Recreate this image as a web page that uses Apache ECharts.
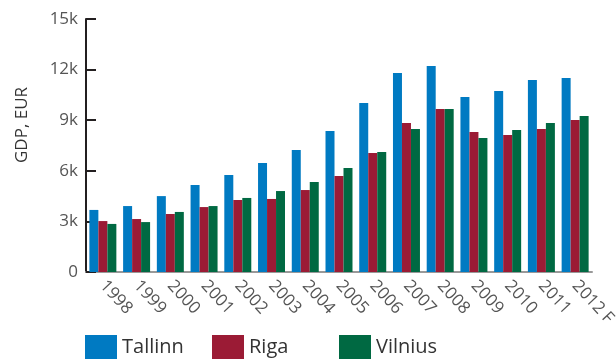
<!DOCTYPE html>
<html>
<head>
<meta charset="utf-8">
<script src="https://cdn.jsdelivr.net/npm/echarts@6/dist/echarts.min.js"></script>
<style>
  html, body { margin: 0; padding: 0; background: #fff; }
  #chart { width: 616px; height: 361px; }
</style>
</head>
<body>
<div id="chart"></div>
<script>
const years = ['1998', '1999', '2000', '2001', '2002', '2003', '2004', '2005', '2006', '2007', '2008', '2009', '2010', '2011', '2012 F'];
const tallinn = [3680, 3910, 4500, 5160, 5750, 6460, 7230, 8360, 10020, 11800, 12210, 10370, 10730, 11380, 11500];
const riga = [3020, 3140, 3440, 3850, 4270, 4330, 4860, 5690, 7050, 8830, 9660, 8300, 8120, 8480, 9010];
const vilnius = [2850, 2960, 3560, 3910, 4390, 4800, 5330, 6160, 7110, 8480, 9660, 7940, 8420, 8830, 9250];
const cities = ['Tallinn', 'Riga', 'Vilnius'];

const font = 'Open Sans';

const chart = echarts.init(document.getElementById('chart'));

function bar(name, data, color) {
  return {
    name: name,
    type: 'bar',
    data: data,
    barGap: 0,
    barCategoryGap: '20%',
    itemStyle: { color: color }
  };
}

// one legend per city so the items sit at even steps like the original
const legends = cities.map((c, i) => ({
  left: 85 + i * 127,
  top: 335,
  padding: 0,
  itemWidth: 32,
  itemHeight: 24,
  icon: 'rect',
  textStyle: { fontSize: 20, color: '#333', fontFamily: font },
  data: [c]
}));

chart.setOption({
  animation: false,
  textStyle: { fontFamily: font },
  grid: { left: 86, right: 24, top: 19, bottom: 89, outerBoundsMode: 'none' },
  legend: legends,
  // axis title sits above the plot's middle, so it is placed by hand
  graphic: [{
    type: 'text',
    x: 22,
    y: 125,
    rotation: Math.PI / 2,
    style: {
      text: 'GDP, EUR',
      fontSize: 17,
      fontFamily: font,
      fill: '#333',
      align: 'center',
      verticalAlign: 'middle'
    }
  }],
  xAxis: {
    type: 'category',
    data: years,
    axisLine: { lineStyle: { color: '#999', width: 2 } },
    axisTick: { inside: true, length: 5, lineStyle: { color: '#231f20', width: 2 } },
    axisLabel: { rotate: -47, fontSize: 17, color: '#555', margin: 11, interval: 0 }
  },
  yAxis: {
    type: 'value',
    min: 0,
    max: 15000,
    interval: 3000,
    splitLine: { show: false },
    axisLine: { show: true, lineStyle: { color: '#231f20', width: 2 } },
    axisTick: { show: true, inside: true, length: 10, lineStyle: { color: '#231f20', width: 2 } },
    axisLabel: {
      fontSize: 17,
      color: '#555',
      margin: 8,
      formatter: v => v === 0 ? '0' : (v / 1000) + 'k'
    }
  },
  series: [
    bar('Tallinn', tallinn, '#007ac2'),
    bar('Riga', riga, '#9b1b35'),
    bar('Vilnius', vilnius, '#006942')
  ]
});
</script>
</body>
</html>
